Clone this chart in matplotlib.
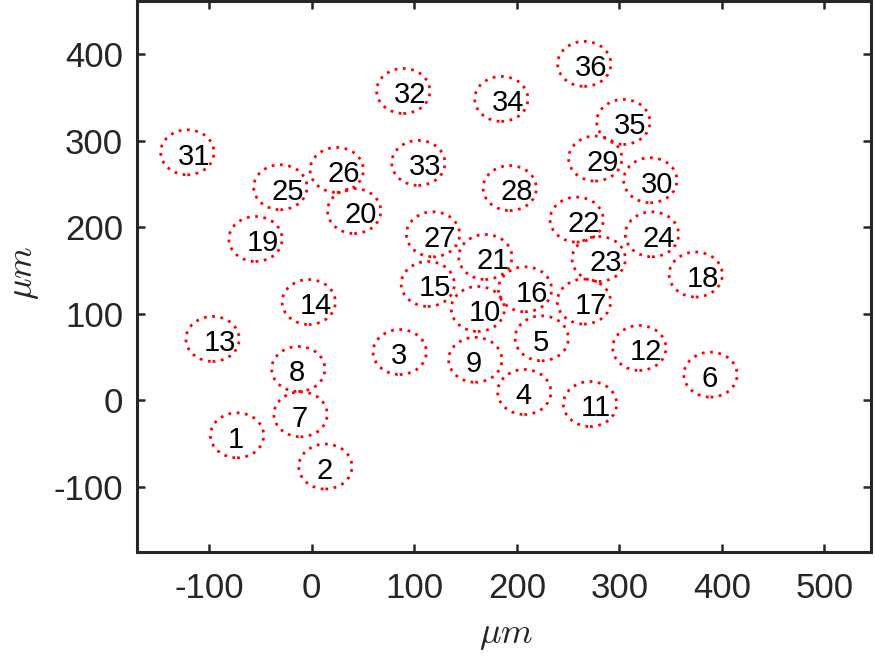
import matplotlib
matplotlib.use("Agg")
import matplotlib.pyplot as plt
from matplotlib.patches import Circle

plt.rcParams['font.family'] = ['Liberation Sans', 'DejaVu Sans']
plt.rcParams['mathtext.fontset'] = 'cm'

# Data: circle ids and centre coordinates (micrometres)
ids = list(range(1, 37))
xs = [-72.8, 13.3, 85.8, 207.3, 224.3, 388.9, -10.9, -13.1, 159.5, 162.0,
      271.4, 319.5, -96.7, -2.9, 113.2, 208.0, 265.5, 374.5, -54.8, 41.4,
      169.3, 258.4, 279.9, 331.8, -30.6, 24.4, 118.3, 193.1, 276.5, 330.2,
      -121.3, 89.3, 104.0, 184.9, 303.9, 265.8]
ys = [-40.8, -76.9, 55.5, 9.3, 71.4, 29.4, -16.5, 35.9, 46.5, 105.3,
      -4.6, 60.2, 70.6, 113.3, 134.2, 128.0, 113.8, 145.1, 186.2, 218.5,
      165.4, 208.6, 163.1, 191.6, 246.0, 266.0, 191.6, 245.0, 279.2, 254.1,
      286.4, 357.3, 274.1, 348.1, 321.5, 388.6]
radius = 26

xticks = [-100, 0, 100, 200, 300, 400, 500]
yticks = [-100, 0, 100, 200, 300, 400]

fig = plt.figure(figsize=(8.75, 6.56), dpi=100)
ax = fig.add_axes([0.1566, 0.1581, 0.8392, 0.840])

for i, x, y in zip(ids, xs, ys):
    ax.add_patch(Circle((x, y), radius, fill=False, edgecolor='red',
                        linewidth=2.0, linestyle=(0, (1, 2))))
    ax.text(x - 9, y - 14.2, str(i), fontsize=21, color='black',
            ha='left', va='baseline')

ax.set_xlim(-170.4, 545.7)
ax.set_ylim(-176, 461)
ax.set_xticks(xticks)
ax.set_yticks(yticks)
ax.set_xticklabels([str(t) for t in xticks])
ax.set_yticklabels([str(t) for t in yticks])

dark = '#262626'
for s in ax.spines.values():
    s.set_linewidth(2.2)
    s.set_color(dark)
ax.tick_params(direction='in', top=True, right=True, length=5.8, width=1.8,
               color=dark, labelcolor=dark, labelsize=25)
ax.tick_params(axis='x', pad=14)
ax.tick_params(axis='y', pad=10)

ax.set_xlabel(r'$\mu m$', fontsize=26, color=dark, va='baseline')
ax.xaxis.set_label_coords(0.5025, -0.1646)
ax.set_ylabel(r'$\mu m$', fontsize=26, color=dark, va='baseline',
              rotation_mode='anchor')
ax.yaxis.set_label_coords(-0.1434, 0.507)

fig.savefig('out.png', dpi=100)
